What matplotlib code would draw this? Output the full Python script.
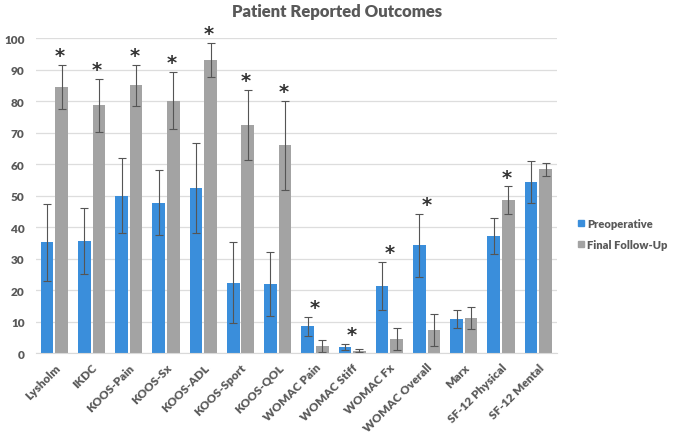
import numpy as np
import matplotlib
matplotlib.use('Agg')
import matplotlib.pyplot as plt
from matplotlib.lines import Line2D

plt.rcParams['font.family'] = ['Lato', 'DejaVu Sans']

categories = ['Lysholm', 'IKDC', 'KOOS-Pain', 'KOOS-Sx', 'KOOS-ADL', 'KOOS-Sport',
              'KOOS-QOL', 'WOMAC Pain', 'WOMAC Stiff', 'WOMAC Fx', 'WOMAC Overall',
              'Marx', 'SF-12 Physical', 'SF-12 Mental']
preop = [35.2, 35.6, 50.0, 47.8, 52.4, 22.4, 22.0, 8.5, 2.0, 21.3, 34.3, 10.9, 37.1, 54.3]
preop_err = [12.2, 10.6, 11.8, 10.3, 14.2, 12.8, 10.1, 3.0, 1.0, 7.6, 10.0, 2.8, 5.7, 6.7]
final = [84.5, 78.7, 85.0, 80.1, 93.2, 72.4, 66.0, 2.2, 0.8, 4.5, 7.4, 11.1, 48.5, 58.3]
final_err = [7.1, 8.4, 6.5, 9.1, 5.4, 11.2, 14.2, 1.9, 0.5, 3.4, 5.1, 3.4, 4.4, 2.2]
significant = [True, True, True, True, True, True, True, True, True, True, True,
               False, True, False]

BLUE = '#3A8EDB'
GRAY = '#A3A3A3'
TEXT = '#595959'
WEIGHT = 'heavy'

fig = plt.figure(figsize=(6.75, 4.35), dpi=100)
ax = fig.add_axes([0.053, 0.186, 0.772, 0.724])

x = np.arange(len(categories))
w = 0.34
off = 0.195
err_kw = dict(ecolor='#555555', elinewidth=0.8, capsize=3, capthick=0.8)
ax.bar(x - off, preop, w, yerr=preop_err, color=BLUE, error_kw=err_kw,
       label='Preoperative', zorder=2)
ax.bar(x + off, final, w, yerr=final_err, color=GRAY, error_kw=err_kw,
       label='Final Follow-Up', zorder=2)

# significance markers above the taller error bar
for i, sig in enumerate(significant):
    if not sig:
        continue
    top = max(preop[i] + preop_err[i], final[i] + final_err[i])
    xs = x[i] + (0.15 if final[i] >= preop[i] else 0.0)
    ax.text(xs, top + 3.0, '*', ha='center', va='center', fontsize=14,
            fontweight='bold', color='#333333', family='DejaVu Sans', clip_on=False)

ax.set_xlim(-0.5, len(categories) - 0.5)
ax.set_ylim(0, 100)
ax.set_yticks(range(0, 101, 10))
ax.yaxis.grid(True, color='#DDDDDD', linewidth=0.9, zorder=0)
ax.set_axisbelow(True)
for s in ['top', 'right', 'left']:
    ax.spines[s].set_visible(False)
ax.spines['bottom'].set_color('#D9D9D9')
ax.tick_params(axis='both', length=0, colors=TEXT)
ax.tick_params(axis='y', pad=8)
ax.tick_params(axis='x', pad=6)
ax.set_xticks(x)
ax.set_xticklabels(categories, rotation=45, ha='right', rotation_mode='anchor',
                   fontsize=8.5, fontweight=WEIGHT, color=TEXT)
for lab in ax.get_yticklabels():
    lab.set_fontweight(WEIGHT)
    lab.set_fontsize(8.5)
    lab.set_color(TEXT)

fig.text(0.5, 0.972, 'Patient Reported Outcomes', ha='center', va='center',
         fontsize=12, fontweight=WEIGHT, color=TEXT)

handles = [Line2D([], [], marker='s', linestyle='', color=BLUE, markersize=5),
           Line2D([], [], marker='s', linestyle='', color=GRAY, markersize=5)]
leg = fig.legend(handles, ['Preoperative', 'Final Follow-Up'], loc='upper left',
                 bbox_to_anchor=(0.84, 0.52), frameon=False, handletextpad=0.1,
                 handlelength=0.8, labelspacing=0.9,
                 prop={'weight': WEIGHT, 'size': 8})
for t in leg.get_texts():
    t.set_color(TEXT)

fig.savefig('out.png', dpi=100)
